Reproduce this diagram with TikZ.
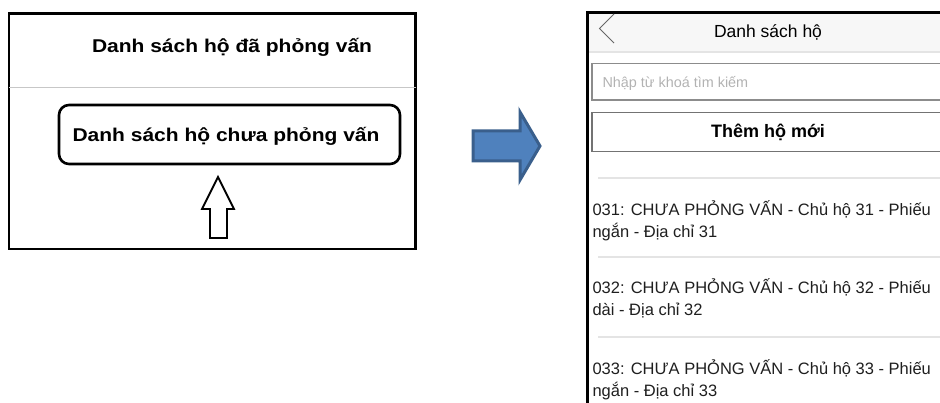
\documentclass[tikz,border=0pt]{standalone}
\usepackage{fontspec}
\setmainfont{Liberation Sans}
\definecolor{armblue}{HTML}{4F81BD}
\definecolor{armedge}{HTML}{3A5F8C}
\definecolor{hdrgray}{HTML}{F7F7F7}
\definecolor{rulegray}{HTML}{E4E4E4}
\definecolor{boxgray}{HTML}{8C8C8C}
\definecolor{hintgray}{HTML}{B2B2B2}

\begin{document}
\begin{tikzpicture}[x=1pt, y=-1pt,
    lbl/.style={font=\fontsize{18.5}{20}\selectfont\bfseries, xscale=1.135, anchor=base},
    item/.style={font=\fontsize{16.5}{20}\selectfont, text=black!88, anchor=base west},
    sep/.style={rulegray, line width=1.3pt}]
  \useasboundingbox (0, 0) rectangle (940, 403);
  % left screen
  \draw[line width=2.8pt] (9, 13.5) rectangle (415.5, 249);
  \draw[black!22, line width=1.4pt] (9, 87.5) -- (415.5, 87.5);
  \node[lbl] (done) at (232, 53) {Danh sách hộ đã phỏng vấn};
  \draw[line width=2.6pt, rounded corners=10pt] (59, 105) rectangle (400, 164);
  \node[lbl] (todo) at (226, 142) {Danh sách hộ chưa phỏng vấn};
  \draw[line width=1.8pt, line join=miter]
    (218, 177) -- (234, 209) -- (227, 209) -- (227, 238)
    -- (210, 238) -- (210, 209) -- (202, 209) -- cycle;
  % big blue arrow
  \filldraw[fill=armblue, draw=armedge, line width=3pt, line join=miter]
    (473, 131) -- (520, 131) -- (520, 112) -- (540, 146)
    -- (520, 180) -- (520, 161) -- (473, 161) -- cycle;
  % right screen
  \fill[hdrgray] (588, 13) rectangle (940, 52);
  \draw[rulegray, line width=2pt] (588, 52.5) -- (940, 52.5);
  \draw[black, line width=2.6pt] (940, 12.5) -- (587.5, 12.5) -- (587.5, 403);
  \draw[black!60, line width=0.9pt] (614, 14) -- (599.5, 28.5) -- (614, 43);
  \node[font=\fontsize{17.5}{20}\selectfont, anchor=base] (head) at (768, 38) {Danh sách hộ};
  \draw[boxgray, line width=1.3pt] (940, 63.5) -- (592, 63.5) -- (592, 100) -- (940, 100);
  \node[font=\fontsize{14.4}{16}\selectfont, text=hintgray, anchor=base west] (hint) at (599, 88) {Nhập từ khoá tìm kiếm};
  \draw[black!55, line width=1.6pt] (940, 112.5) -- (592, 112.5) -- (592, 151.5) -- (940, 151.5);
  \node[font=\fontsize{18}{20}\selectfont\bfseries, anchor=base] (add) at (768, 138) {Thêm hộ mới};
  \draw[sep] (598, 178) -- (940, 178);
  \node[item] (h31) at (589, 216) {031: CHƯA PHỎNG VẤN - Chủ hộ 31 - Phiếu};
  \node[item] (h31b) at (589, 238) {ngắn - Địa chỉ 31};
  \draw[sep] (598, 257) -- (940, 257);
  \node[item] (h32) at (589, 294) {032: CHƯA PHỎNG VẤN - Chủ hộ 32 - Phiếu};
  \node[item] (h32b) at (589, 316) {dài - Địa chỉ 32};
  \draw[sep] (598, 337) -- (940, 337);
  \node[item] (h33) at (589, 374) {033: CHƯA PHỎNG VẤN - Chủ hộ 33 - Phiếu};
  \node[item] (h33b) at (589, 396) {ngắn - Địa chỉ 33};
\end{tikzpicture}
\end{document}
